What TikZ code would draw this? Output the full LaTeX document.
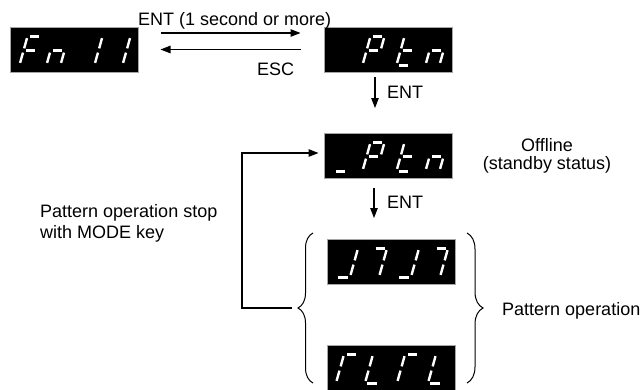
\documentclass[tikz,border=0pt]{standalone}
\usepackage{fontspec}
\setmainfont{Liberation Sans}
\usetikzlibrary{arrows.meta,decorations.pathreplacing,calc}
\newcommand{\sgma}{\draw[hseg] (TL) -- (TR);}
\newcommand{\sgmb}{\draw[vseg] (TR) -- (MR);}
\newcommand{\sgmc}{\draw[vseg] (MR) -- (BR);}
\newcommand{\sgmd}{\draw[hseg] (BL) -- (BR);}
\newcommand{\sgme}{\draw[vseg] (ML) -- (BL);}
\newcommand{\sgmf}{\draw[vseg] (TL) -- (ML);}
\newcommand{\sgmg}{\draw[hseg] (ML) -- (MR);}
\newcommand{\digseg}[2]{%
  \begin{scope}[xshift=#1pt]
    \coordinate (TL) at (8.1,9);   \coordinate (TR) at (22.1,9);
    \coordinate (ML) at (4.06,23.5); \coordinate (MR) at (18.06,23.5);
    \coordinate (BL) at (0,38);    \coordinate (BR) at (14,38);
    \foreach \s in {#2} {\csname sgm\s\endcsname}
  \end{scope}}
\begin{document}
\begin{tikzpicture}[x=1pt,y=-1pt,
  disp/.style={fill=black, draw=gray!70, line width=0.6pt, minimum width=128pt,
    minimum height=45pt, inner sep=0pt, outer sep=0pt},
  hseg/.style={white, line width=3pt, shorten <=2.4pt, shorten >=2.4pt},
  vseg/.style={white, line width=2.4pt, shorten <=2.2pt, shorten >=2.2pt},
  arr/.style={line width=1.1pt, -{Triangle[length=10pt,width=7.5pt]}},
  lbl/.style={font=\fontsize{18pt}{21pt}\selectfont, inner sep=0pt},
  brc/.style={line width=1pt, decorate, decoration={brace, amplitude=15pt}}]
\useasboundingbox[fill=white] (0,0) rectangle (644,389);

% displays
\node[disp] (d1) at (74.5,49.5) {};
\node[disp] (d2) at (388.5,49.5) {};
\node[disp] (d3) at (388.5,155.5) {};
\node[disp] (d4) at (391,261.5) {};
\node[disp] (d5) at (391,367.5) {};

\begin{scope}[shift={(d1.north west)}]
  \digseg{9}{a,f,e,g}\digseg{36}{e,g,c}\digseg{70}{b,c}\digseg{98}{b,c}
\end{scope}
\begin{scope}[shift={(d2.north west)}]
  \digseg{38}{a,b,f,e,g}\digseg{72}{f,e,d,g}\digseg{101}{e,g,c}
\end{scope}
\begin{scope}[shift={(d3.north west)}]
  \digseg{9}{d}\digseg{38}{a,b,f,e,g}\digseg{72}{f,e,d,g}\digseg{101}{e,g,c}
\end{scope}
\begin{scope}[shift={(d4.north west)}]
  \digseg{9}{b,c,d}\digseg{38}{a,b,c}\digseg{70}{b,c,d}\digseg{99}{a,b,c}
\end{scope}
\begin{scope}[shift={(d5.north west)}]
  \digseg{9}{a,f,e}\digseg{38}{f,e,d}\digseg{70}{a,f,e}\digseg{101}{f,e,d}
\end{scope}

% horizontal arrows
\draw[arr] ([xshift=22pt,yshift=16.5pt]d1.east) -- ([xshift=-24pt,yshift=16.5pt]d2.west);
\draw[arr] ([xshift=-24pt]d2.west) -- ([xshift=22pt]d1.east);
\node[lbl, anchor=base west] (t1) at (138,25) {ENT (1 second or more)};
\node[lbl, anchor=base west] (t2) at (257,75) {ESC};

% down arrows
\draw[arr] ([xshift=-13.5pt,yshift=-5pt]d2.south) -- ([xshift=-13.5pt,yshift=25pt]d3.north);
\node[lbl, anchor=base west] (t3) at (387,98) {ENT};
\draw[arr] ([xshift=-14.5pt,yshift=-10pt]d3.south) -- ([xshift=-17pt,yshift=21pt]d4.north);
\node[lbl, anchor=base west] (t4) at (387,208) {ENT};

\node[lbl, font=\fontsize{18pt}{17.5pt}\selectfont, align=center] (t5) at (547,156) {Offline\\(standby status)};

% braces
\coordinate (lbb) at (313,383); \coordinate (lbt) at (313,233);
\coordinate (rbt) at (467,233); \coordinate (rbb) at (467,383);
\draw[brc] (lbb) -- (lbt);
\draw[brc, decoration={brace, amplitude=16pt}] (rbt) -- (rbb);
\node[lbl, anchor=base west] (t7) at (502,315) {Pattern operation};

% loop back
\coordinate (lp) at (292,308);
\draw[arr, shorten >=6pt] (lp) -- (242,308) |- ([yshift=2.5pt]d3.west);
\node[lbl, align=left, anchor=west] (t6) at (40,223) {Pattern operation stop\\with MODE key};
\end{tikzpicture}
\end{document}
